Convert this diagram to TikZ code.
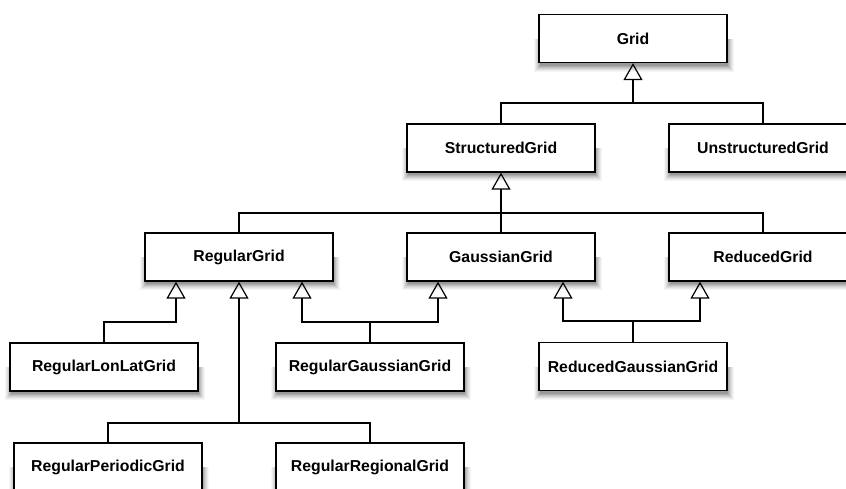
\documentclass[tikz,border=0pt]{standalone}
\usepackage{fontspec}
\setmainfont{Liberation Sans}
\usetikzlibrary{arrows.meta}
\begin{document}
\begin{tikzpicture}[x=1pt,y=-1pt,
 cls/.style={draw, line width=1.3pt, fill=white, minimum width=188pt, minimum height=48pt, inner sep=0pt,
   font=\fontsize{15.8}{18}\selectfont\bfseries},
 link/.style={line width=1.2pt},
 trunk/.style={line width=1.8pt},
 inh/.style={-{Triangle[open, width=19pt, length=17pt, line width=1.2pt]}},
]
\fill[white] (0,0) rectangle (846,488);
\useasboundingbox (0,0) rectangle (846,488);

% soft drop shadows under the boxes
\foreach \cx/\cy in {633/38.5, 501/148, 763/148, 239/257, 501/257, 763/257, 104/367, 370/367, 633/366.5, 108/467, 370/467}{
  \foreach \e/\c in {6/4, 5/8, 4/13, 3/19, 2/25, 1/32, 0/40}{
    \fill[black!\c] (\cx-93-\e, \cy) rectangle (\cx+95+\e, \cy+27+\e);
  }
}

\node[cls] (grid) at (633,38.5) {Grid};
\node[cls] (sg) at (501,148) {StructuredGrid};
\node[cls] (ug) at (763,148) {UnstructuredGrid};
\node[cls] (rg) at (239,257) {RegularGrid};
\node[cls] (gg) at (501,257) {GaussianGrid};
\node[cls] (redg) at (763,257) {ReducedGrid};
\node[cls] (rll) at (104,367) {RegularLonLatGrid};
\node[cls] (rgg) at (370,367) {RegularGaussianGrid};
\node[cls] (rdg) at (633,366.5) {ReducedGaussianGrid};
\node[cls] (rpg) at (108,467) {RegularPeriodicGrid};
\node[cls] (rrg) at (370,467) {RegularRegionalGrid};

\coordinate (j1) at (633,103);
\coordinate (j2) at (501,213);
\coordinate (k1) at (176,322);
\coordinate (k2) at (370,322);
\coordinate (k3) at (239,423);
\coordinate (k4) at (633,321);

\draw[link] (sg.north) |- (j1) -| (ug.north);
\draw[trunk,inh] (j1) -- (grid.south);

\draw[link] (rg.north) |- (j2) -| (redg.north);
\draw[trunk] (gg.north) -- (j2);
\draw[trunk,inh] (j2) -- (sg.south);

\draw[link,inh] (rll.north) |- (k1) -- ([xshift=-63pt]rg.south);

\draw[link] (rgg.north) -- (k2);
\draw[link,inh] (k2) -| ([xshift=63pt]rg.south);
\draw[link,inh] (k2) -| ([xshift=-63pt]gg.south);

\draw[trunk,inh] (k3) -- (rg.south);
\draw[link] (rpg.north) |- (k3) -| (rrg.north);

\draw[link] (rdg.north) -- (k4);
\draw[link,inh] (k4) -| ([xshift=62pt]gg.south);
\draw[link,inh] (k4) -| ([xshift=-63pt]redg.south);
\end{tikzpicture}
\end{document}
